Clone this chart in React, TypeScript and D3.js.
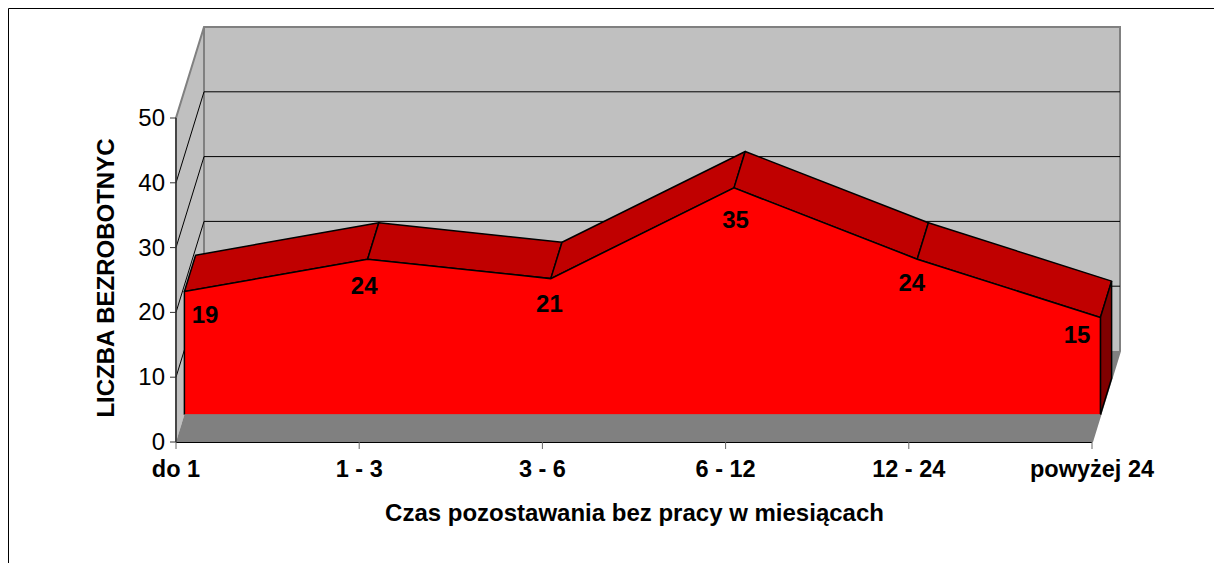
import * as React from 'react';
import * as d3 from 'd3';

const WIDTH = 1214;
const HEIGHT = 563;

const categories = ['do 1', '1 - 3', '3 - 6', '6 - 12', '12 - 24', 'powyżej 24'];
const values = [19, 24, 21, 35, 24, 15];
const yTicks = [0, 10, 20, 30, 40, 50];

// hand placed offsets of the value labels, from the point on the front axis plane
const labelDx = [29, 5, 7, 10, 3, -15];
const labelDy = [4, 8, 6, 13, 5, -2];

// oblique depth of the 3D box
const DEPTH_X = 28;
const DEPTH_Y = -91;
const AREA_FRONT = 0.3;
const AREA_BACK = 0.7;

const x = d3.scalePoint<string>().domain(categories).range([176, 1092]);
const y = d3.scaleLinear().domain([0, 50]).range([442, 118]);

const line = d3.line<[number, number]>();

// project a (category, value) pair on to a plane at depth t (0 front, 1 back)
const at = (c: string, v: number, t: number): [number, number] => [
  (x(c) as number) + DEPTH_X * t,
  y(v) + DEPTH_Y * t,
];

const first = categories[0];
const last = categories[categories.length - 1];

export default function App() {
  const font = '"Liberation Sans", Arial, sans-serif';
  const top = values.map((v, i) => at(categories[i], v, AREA_FRONT));

  return (
    <svg
      width={WIDTH}
      height={HEIGHT}
      style={{ position: 'absolute', left: 0, top: 0 }}
      fontFamily={font}
    >
      <rect x={0} y={0} width={WIDTH} height={HEIGHT} fill="#fff" />
      <path d="M8.5,563V8.5H1214" fill="none" stroke="#000" strokeWidth={1} />

      {/* walls and floor */}
      <path
        d={line([at(first, 0, 0), at(first, 0, 1), at(last, 0, 1), at(last, 50, 1), at(first, 50, 1), at(first, 50, 0)]) + 'Z'}
        fill="#c0c0c0"
      />
      <path
        d={line([at(first, 0, 0), at(last, 0, 0), at(last, 0, 1), at(first, 0, 1)]) + 'Z'}
        fill="#808080"
      />
      <path
        d={line([at(first, 0, 0), at(first, 50, 0), at(first, 50, 1), at(last, 50, 1), at(last, 0, 1), at(last, 0, 0)]) as string}
        fill="none"
        stroke="#808080"
        strokeWidth={2}
      />
      <path d={line([at(first, 50, 1), at(first, 0, 1)]) as string} stroke="#808080" strokeWidth={2} fill="none" />

      {/* gridlines */}
      {yTicks.slice(1, 5).map(t => (
        <path
          key={t}
          d={line([at(first, t, 0), at(first, t, 1), at(last, t, 1)]) as string}
          fill="none"
          stroke="#000"
          strokeWidth={1}
        />
      ))}

      {/* area: top ribbon */}
      {values.slice(0, -1).map((v, i) => (
        <path
          key={i}
          d={line([
            at(categories[i], v, AREA_FRONT),
            at(categories[i + 1], values[i + 1], AREA_FRONT),
            at(categories[i + 1], values[i + 1], AREA_BACK),
            at(categories[i], v, AREA_BACK),
          ]) + 'Z'}
          fill="#c00000"
          stroke="#000"
          strokeWidth={1.5}
          strokeLinejoin="round"
        />
      ))}
      {/* area: right end */}
      <path
        d={line([
          at(last, 0, AREA_FRONT),
          at(last, values[5], AREA_FRONT),
          at(last, values[5], AREA_BACK),
          at(last, 0, AREA_BACK),
        ]) + 'Z'}
        fill="#800000"
        stroke="#000"
        strokeWidth={1.5}
      />
      {/* area: front */}
      <path
        d={line([at(first, 0, AREA_FRONT), ...top, at(last, 0, AREA_FRONT)]) as string}
        fill="#ff0000"
        stroke="none"
      />
      <path
        d={line([at(first, 0, AREA_FRONT), ...top, at(last, 0, AREA_FRONT)]) as string}
        fill="none"
        stroke="#000"
        strokeWidth={1.5}
      />
      <path
        d={line([at(first, 0, AREA_FRONT), at(last, 0, AREA_FRONT)]) as string}
        stroke="#808080"
        strokeWidth={1}
      />

      {/* axes */}
      <path d={`M176,${y(50)}V${y(0)}`} stroke="#333" strokeWidth={1.5} />
      <path d={`M176,${y(0) + 0.5}H1092`} stroke="#000" strokeWidth={1} />
      {yTicks.map(t => (
        <g key={t}>
          <path d={`M170,${y(t)}H176`} stroke="#333" />
          <text x={165} y={y(t) + 8} textAnchor="end" fontSize={24} fill="#000">
            {t}
          </text>
        </g>
      ))}
      {categories.map(c => (
        <g key={c}>
          <path d={`M${x(c)},442V449`} stroke="#666" strokeWidth={1} />
          <text x={x(c)} y={477} textAnchor="middle" fontSize={23.5} fontWeight="bold" fill="#000">
            {c}
          </text>
        </g>
      ))}

      {/* value labels */}
      {values.map((v, i) => (
        <text
          key={i}
          x={(x(categories[i]) as number) + labelDx[i]}
          y={y(v) + labelDy[i]}
          textAnchor="middle"
          fontSize={24}
          fontWeight="bold"
          fill="#000"
        >
          {v}
        </text>
      ))}

      {/* titles */}
      <text
        transform="translate(114,278) rotate(-90)"
        textAnchor="middle"
        fontSize={24}
        fontWeight="bold"
        fill="#000"
      >
        LICZBA BEZROBOTNYC
      </text>
      <text x={634.5} y={520.5} textAnchor="middle" fontSize={24} fontWeight="bold" fill="#000">
        Czas pozostawania bez pracy w miesiącach
      </text>
    </svg>
  );
}
